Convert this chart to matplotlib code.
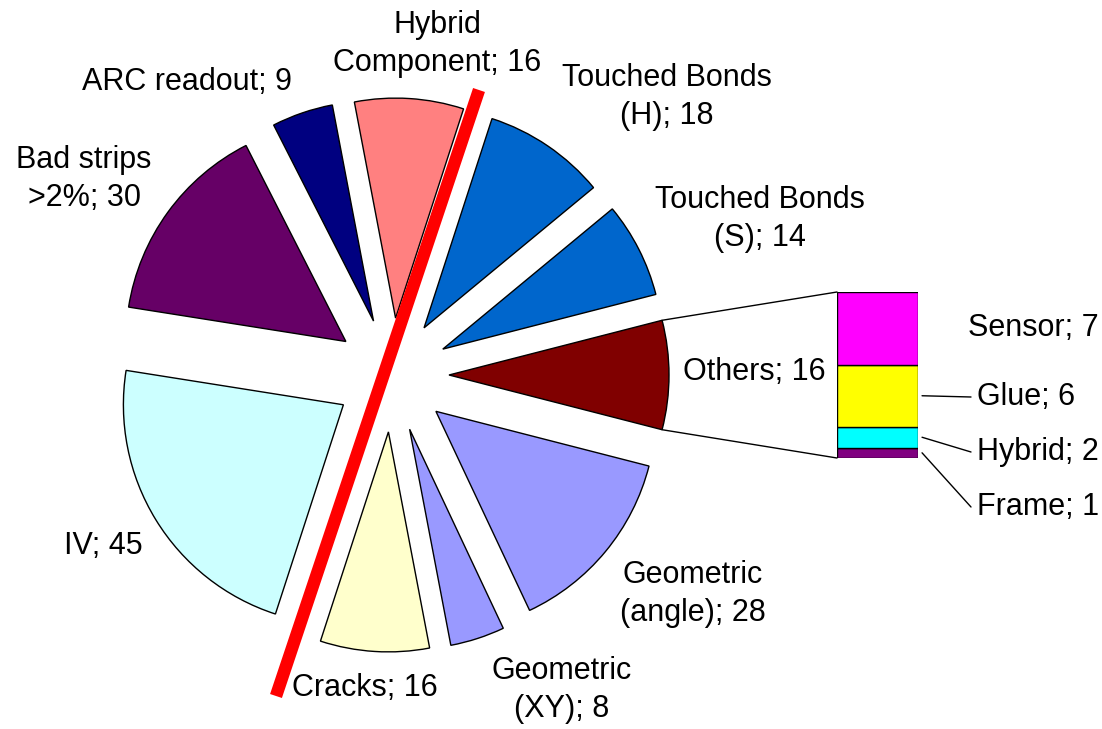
import matplotlib
matplotlib.use("Agg")
import matplotlib.pyplot as plt
import numpy as np
from matplotlib.patches import ConnectionPatch

plt.rcParams['font.family'] = ['Liberation Sans', 'DejaVu Sans']

W, H = 1102, 729

# main pie, clockwise starting with the "Others" slice on the right
pie_labels = ["Others", "Geometric\n(angle)", "Geometric\n(XY)", "Cracks", "IV",
              "Bad strips\n>2%", "ARC readout", "Hybrid\nComponent",
              "Touched Bonds\n(H)", "Touched Bonds\n(S)"]
pie_values = [16, 28, 8, 16, 45, 30, 9, 16, 18, 14]
pie_colors = ["#800000", "#9999ff", "#9999ff", "#ffffcc", "#ccffff",
              "#660066", "#000080", "#ff8080", "#0066cc", "#0066cc"]

# breakdown of "Others", stacked bottom to top
bar_labels = ["Frame", "Hybrid", "Glue", "Sensor"]
bar_values = [1, 2, 6, 7]
bar_colors = ["#800080", "#00ffff", "#ffff00", "#ff00ff"]

# label anchors in pixel coords (y down)
pie_label_xy = [(754, 372), (693, 594), (562, 690), (365, 688), (103, 546),
                (84, 179), (187, 82), (437, 44), (667, 97), (760, 219)]
bar_label_xy = [(977, 507), (977, 452), (977, 397), (968, 328)]

FS = 22

fig = plt.figure(figsize=(W / 100, H / 100), dpi=100)
ax = fig.add_axes([0, 0, 1, 1])

# y axis inverted so everything is in pixel coords; counterclock=True then reads clockwise
# (explode is in data units here, i.e. pixels)
other_half = pie_values[0] / sum(pie_values) * 180
wedges, _ = ax.pie(pie_values, colors=pie_colors, center=(392, 375), radius=220,
                   explode=[57] * len(pie_values), startangle=-other_half,
                   counterclock=True,
                   wedgeprops=dict(edgecolor='black', linewidth=1.0))
ax.set_xlim(0, W)
ax.set_ylim(H, 0)
ax.set_aspect('equal')
ax.axis('off')

for lab, val, (x, y) in zip(pie_labels, pie_values, pie_label_xy):
    ax.text(x, y, f"{lab}; {val}", ha='center', va='center', fontsize=FS,
            multialignment='center', linespacing=1.35)

# bar of the "Others" breakdown
bax = fig.add_axes([837 / W, 1 - 458 / H, 81 / W, 166 / H])
bottoms = np.concatenate([[0], np.cumsum(bar_values)[:-1]])
bax.bar([0] * len(bar_values), bar_values, bottom=bottoms, width=1.0,
        color=bar_colors, edgecolor='black', linewidth=1.0)
bax.set_xlim(-0.5, 0.5)
bax.set_ylim(0, sum(bar_values))
bax.axis('off')

# connector lines from the Others slice to the bar
w0 = wedges[0]
cx, cy = w0.center
for ang, yb in [(w0.theta1, sum(bar_values)), (w0.theta2, 0)]:
    px = cx + w0.r * np.cos(np.radians(ang))
    py = cy + w0.r * np.sin(np.radians(ang))
    con = ConnectionPatch(xyA=(px, py), coordsA=ax.transData,
                          xyB=(-0.5, yb), coordsB=bax.transData,
                          color='black', linewidth=1.0)
    fig.add_artist(con)

for i, (lab, val, (x, y)) in enumerate(zip(bar_labels, bar_values, bar_label_xy)):
    ax.text(x, y, f"{lab}; {val}", ha='left', va='center', fontsize=FS)
    if lab != "Sensor":
        mid = bottoms[i] + val / 2
        con = ConnectionPatch(xyA=(0.55, mid), coordsA=bax.transData,
                              xyB=(x - 6, y), coordsB=ax.transData,
                              color='black', linewidth=1.0)
        fig.add_artist(con)

# red dividing line
ax.plot([479, 276], [90, 696], color='#ff0000', linewidth=9,
        solid_capstyle='butt')

fig.savefig("out.png", dpi=100)
